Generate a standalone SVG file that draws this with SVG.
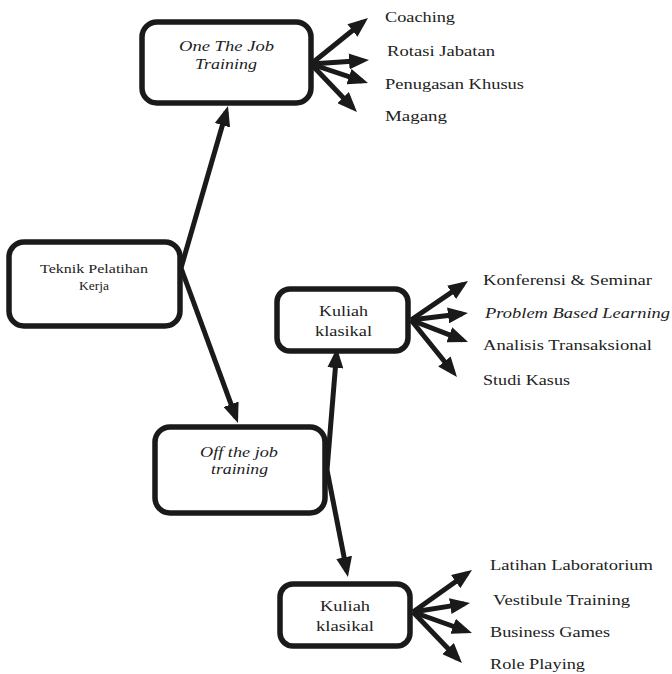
<svg xmlns="http://www.w3.org/2000/svg" width="672" height="674" viewBox="0 0 672 674">
<style>
.box{fill:#fff;stroke:#1a1a1a;stroke-width:5.5}
.ln{stroke:#1a1a1a;stroke-width:5;fill:none;marker-end:url(#ah)}
.t{font-family:"Liberation Serif","Times New Roman",Tinos,"DejaVu Serif",serif;font-size:15.5px;fill:#222}
.c{text-anchor:middle}
.i{font-style:italic}
</style>
<defs>
<marker id="ah" markerUnits="userSpaceOnUse" markerWidth="20" markerHeight="16" refX="14" refY="8" orient="auto">
<path d="M0,0 L20,8 L0,16 z" fill="#1a1a1a"/>
</marker>
</defs>
<g id="connectors">
<line class="ln" x1="181" y1="268" x2="226.3" y2="111.8"/>
<line class="ln" x1="181" y1="268" x2="235.9" y2="417.4"/>
<line class="ln" x1="327" y1="470" x2="336.5" y2="354"/>
<line class="ln" x1="327" y1="470" x2="346.8" y2="571.1"/>
<line class="ln" x1="311" y1="64" x2="363.3" y2="21.8"/>
<line class="ln" x1="311" y1="64" x2="363" y2="60.4"/>
<line class="ln" x1="311" y1="64" x2="362.3" y2="81.1"/>
<line class="ln" x1="311" y1="64" x2="352.8" y2="107.7"/>
<line class="ln" x1="411" y1="320" x2="463.1" y2="284.4"/>
<line class="ln" x1="411" y1="320" x2="462" y2="313.7"/>
<line class="ln" x1="411" y1="320" x2="462.4" y2="339.8"/>
<line class="ln" x1="411" y1="320" x2="453.2" y2="372.3"/>
<line class="ln" x1="413" y1="612" x2="467.1" y2="573.5"/>
<line class="ln" x1="413" y1="612" x2="464.1" y2="603.9"/>
<line class="ln" x1="413" y1="612" x2="466.3" y2="631"/>
<line class="ln" x1="413" y1="612" x2="457.8" y2="658.7"/>
</g>
<g id="ojt">
<rect class="box" x="142" y="22" width="169" height="81" rx="15"/>
<text class="t i" x="179" y="51" textLength="95" lengthAdjust="spacingAndGlyphs">One The Job</text>
<text class="t i" x="195" y="69" textLength="62" lengthAdjust="spacingAndGlyphs">Training</text>
</g>
<g id="teknik">
<rect class="box" x="9" y="242" width="171" height="84" rx="15"/>
<text class="t" x="40" y="273" style="font-size:13.5px" textLength="108" lengthAdjust="spacingAndGlyphs">Teknik Pelatihan</text>
<text class="t c" x="94" y="290" style="font-size:13.5px">Kerja</text>
</g>
<g id="off">
<rect class="box" x="155" y="427" width="170" height="86" rx="15"/>
<text class="t i" x="200" y="457" textLength="78" lengthAdjust="spacingAndGlyphs">Off the job</text>
<text class="t i" x="211" y="474" textLength="57" lengthAdjust="spacingAndGlyphs">training</text>
</g>
<g id="kuliah1">
<rect class="box" x="277" y="289" width="131" height="62" rx="13"/>
<text class="t" x="319" y="316" textLength="49" lengthAdjust="spacingAndGlyphs">Kuliah</text>
<text class="t" x="315" y="336" textLength="57" lengthAdjust="spacingAndGlyphs">klasikal</text>
</g>
<g id="kuliah2">
<rect class="box" x="280" y="584" width="130" height="62" rx="13"/>
<text class="t" x="320" y="611" textLength="50" lengthAdjust="spacingAndGlyphs">Kuliah</text>
<text class="t" x="316" y="631" textLength="58" lengthAdjust="spacingAndGlyphs">klasikal</text>
</g>
<g id="ojt-items">
<text class="t" x="385" y="22" textLength="70" lengthAdjust="spacingAndGlyphs">Coaching</text>
<text class="t" x="387" y="56" textLength="108" lengthAdjust="spacingAndGlyphs">Rotasi Jabatan</text>
<text class="t" x="385" y="89" textLength="139" lengthAdjust="spacingAndGlyphs">Penugasan Khusus</text>
<text class="t" x="385" y="121" textLength="62" lengthAdjust="spacingAndGlyphs">Magang</text>
</g>
<g id="k1-items">
<text class="t" x="483" y="285" textLength="169" lengthAdjust="spacingAndGlyphs">Konferensi &amp; Seminar</text>
<text class="t i" x="485" y="318" textLength="185" lengthAdjust="spacingAndGlyphs">Problem Based Learning</text>
<text class="t" x="483" y="350" textLength="169" lengthAdjust="spacingAndGlyphs">Analisis Transaksional</text>
<text class="t" x="483" y="385" textLength="87" lengthAdjust="spacingAndGlyphs">Studi Kasus</text>
</g>
<g id="k2-items">
<text class="t" x="490" y="570" textLength="163" lengthAdjust="spacingAndGlyphs">Latihan Laboratorium</text>
<text class="t" x="493" y="605" textLength="137" lengthAdjust="spacingAndGlyphs">Vestibule Training</text>
<text class="t" x="490" y="637" textLength="120" lengthAdjust="spacingAndGlyphs">Business Games</text>
<text class="t" x="490" y="669" textLength="95" lengthAdjust="spacingAndGlyphs">Role Playing</text>
</g>
</svg>
